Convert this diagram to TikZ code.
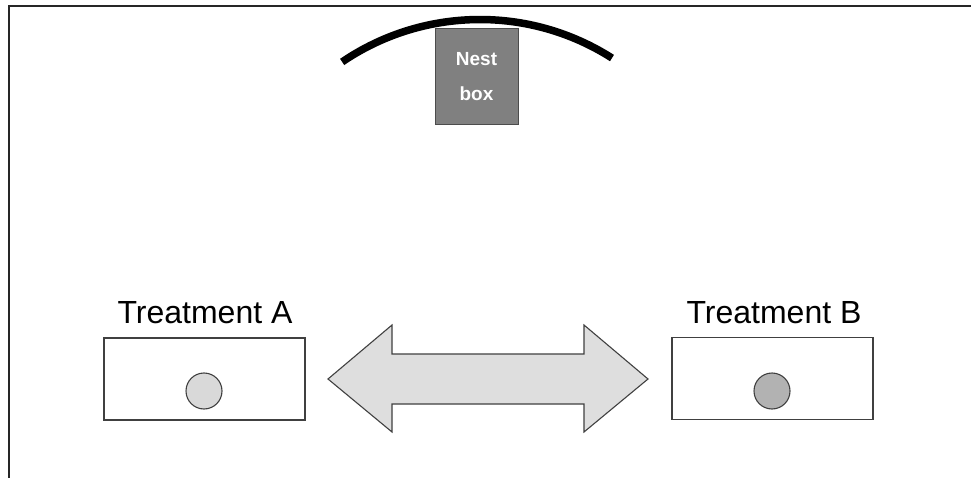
\documentclass[tikz,border=0pt]{standalone}
\usepackage{fontspec}
\setmainfont{Liberation Sans}
\begin{document}
\begin{tikzpicture}[x=1pt,y=-1pt,
  frameline/.style={line width=2pt,draw=black!85},
  trayrect/.style={draw=black!75,line width=1.1pt,fill=white,minimum width=201pt,minimum height=82pt,inner sep=0pt},
  dish/.style={circle,draw=black!75,line width=1.1pt,minimum size=36pt,inner sep=0pt},
  label/.style={anchor=base,font=\fontsize{32}{36}\selectfont},
  nestbox/.style={draw=black!70,line width=1pt,fill=black!50,text=white,minimum width=83pt,minimum height=96pt,
    inner sep=0pt,align=center,font=\bfseries\fontsize{19}{35}\selectfont}]
\useasboundingbox (0,0) rectangle (971,478);
\fill[white] (0,0) rectangle (971,478);

% page frame (top and left edges)
\draw[frameline] (9,478) -- (9,6) -- (971,6);

% curved wall above the nest box
\draw[line width=7.5pt,line cap=butt] (480,264.8) ++(-124.2:245.3) arc[start angle=-124.2,end angle=-57.45,radius=245.3];

% nest box
\node[nestbox] (nest) at (476.5,77) {Nest\\box};

% treatment trays
\node[trayrect] (trayA) at (204.5,379) {};
\node[trayrect] (trayB) at (772.5,378.5) {};
\node[dish,fill=black!15] (dishA) at (204,391) {};
\node[dish,fill=black!30] (dishB) at (772,391) {};
\node[label] (labA) at (205,323) {Treatment A};
\node[label] (labB) at (774,323) {Treatment B};

% double-headed block arrow between the trays
\draw[draw=black!75,line width=1.1pt,fill=black!13,line join=miter]
  (328,379) -- (392,325) -- (392,354) -- (584,354) -- (584,325) -- (648,379)
  -- (584,432) -- (584,404) -- (392,404) -- (392,432) -- cycle;
\end{tikzpicture}
\end{document}
